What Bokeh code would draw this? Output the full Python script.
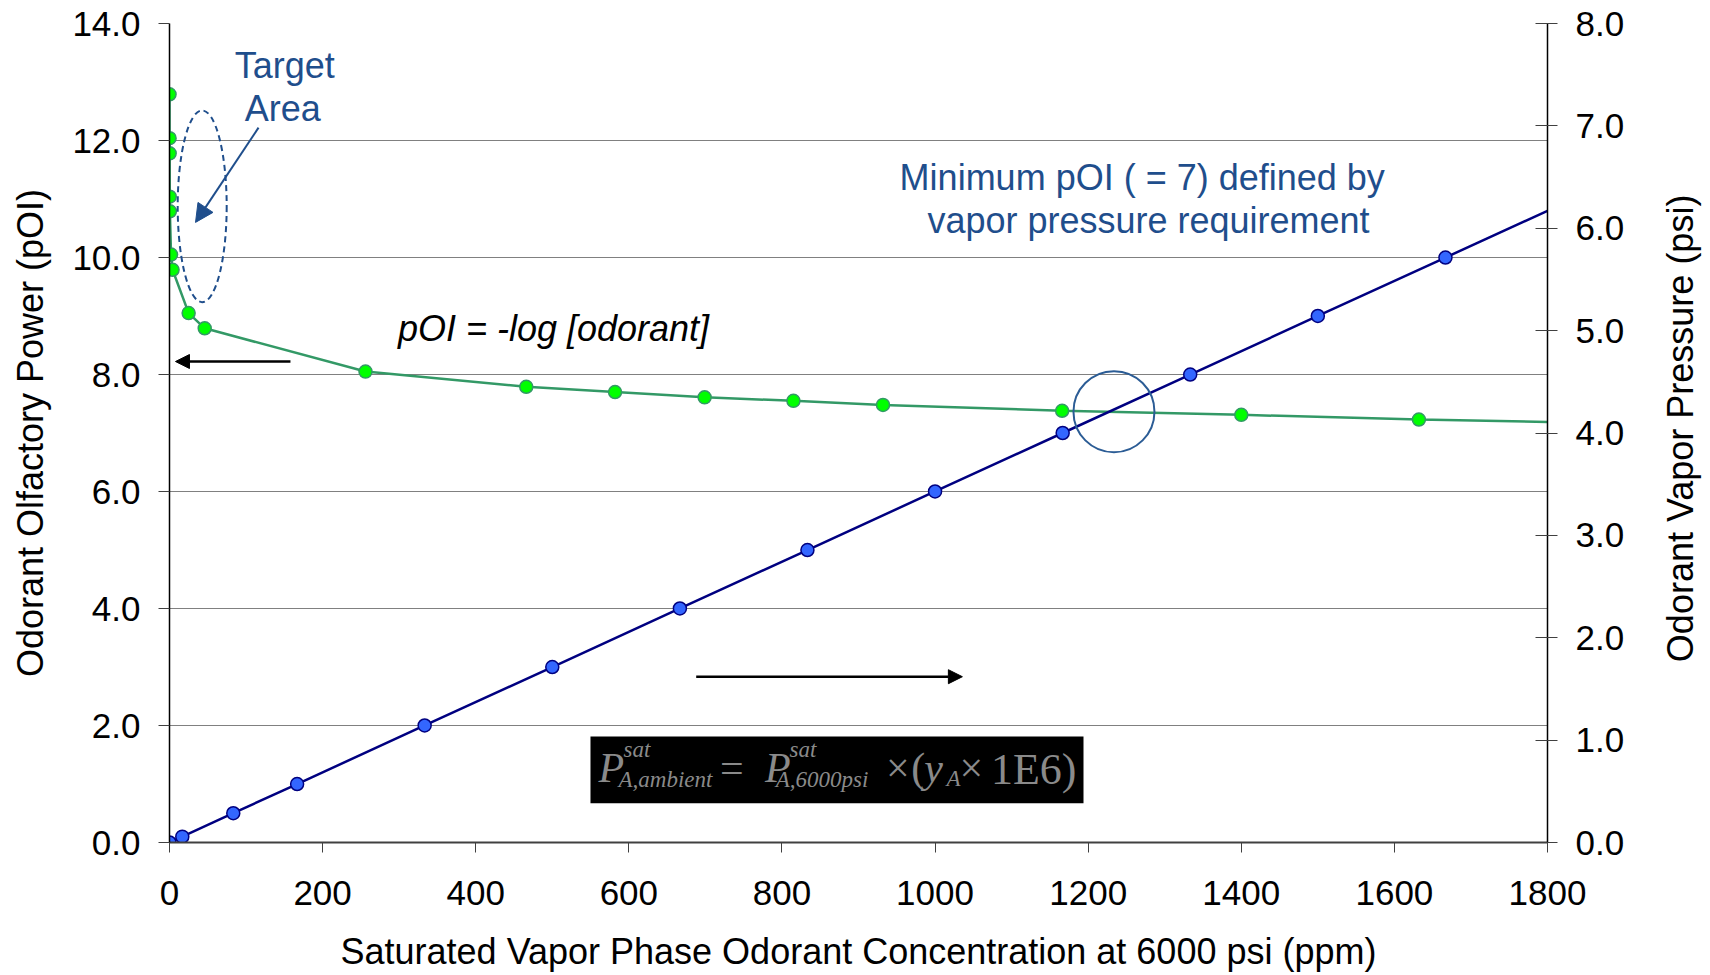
from bokeh.plotting import figure
from bokeh.layouts import row
from bokeh.models import (LinearAxis, Range1d, FixedTicker, NumeralTickFormatter,
                          Label, Arrow, NormalHead, BoxAnnotation)
from bokeh.embed import file_html
from bokeh.resources import INLINE

# ---------------- data ----------------
green_ppm = [0.05, 0.1, 0.2, 0.3, 0.5, 2, 4, 25, 46, 256, 466, 582, 699, 815, 932, 1166, 1400, 1632]
green_poi = [12.79, 12.04, 11.78, 11.04, 10.79, 10.05, 9.79, 9.05, 8.79, 8.05, 7.79, 7.70, 7.61,
             7.55, 7.48, 7.38, 7.31, 7.23]
green_tail_ppm = [1800]
green_tail_poi = [7.19]

blue_ppm = [0, 16.7, 83.3, 166.7, 333.3, 500, 666.7, 833.3, 1000, 1166.7, 1333.3, 1500, 1666.7]
blue_psi = [0, 0.057, 0.286, 0.571, 1.143, 1.714, 2.286, 2.857, 3.429, 4.0, 4.571, 5.143, 5.714]
blue_tail_ppm = [1800]
blue_tail_psi = [6.17]

x_ticks = [0, 200, 400, 600, 800, 1000, 1200, 1400, 1600, 1800]
left_ticks = [0, 2, 4, 6, 8, 10, 12, 14]
right_ticks = [0, 1, 2, 3, 4, 5, 6, 7, 8]

x_title = "Saturated Vapor Phase Odorant Concentration at 6000 psi (ppm)"
left_title = "Odorant Olfactory Power (pOI)"
right_title = "Odorant Vapor Pressure (psi)"

SANS = "Liberation Sans"
SERIF = "Liberation Serif"
NOTE_BLUE = "#1F4E8C"

p = figure(frame_width=1378, frame_height=819,
           x_range=Range1d(0, 1800), y_range=Range1d(0, 14),
           output_backend="svg", toolbar_location=None,
           min_border_left=169, min_border_right=100, min_border_top=23, min_border_bottom=133,
           background_fill_color="white", border_fill_color="white")
p.outline_line_color = None
p.extra_y_ranges = {"psi": Range1d(0, 8)}

# grid
p.xgrid.visible = False
p.ygrid.ticker = FixedTicker(ticks=left_ticks)
p.ygrid.grid_line_color = "#808080"
p.ygrid.grid_line_width = 1.2

# bottom axis
xa = p.xaxis[0]
xa.ticker = FixedTicker(ticks=x_ticks)
xa.axis_line_color = "#404040"
xa.axis_line_width = 2
xa.major_tick_out = 10
xa.major_tick_in = 0
xa.major_tick_line_color = "#404040"
xa.minor_tick_line_color = None
xa.major_label_text_font = SANS
xa.major_label_text_font_size = "35px"
xa.major_label_text_color = "black"
xa.major_label_standoff = 28
xa.axis_label = x_title
xa.axis_label_text_font = SANS
xa.axis_label_text_font_size = "36px"
xa.axis_label_text_font_style = "normal"
xa.axis_label_text_color = "black"
xa.axis_label_standoff = 23

# left axis
ya = p.yaxis[0]
ya.ticker = FixedTicker(ticks=left_ticks)
ya.formatter = NumeralTickFormatter(format="0.0")
ya.axis_line_color = "black"
ya.axis_line_width = 1.5
ya.major_tick_out = 11
ya.major_tick_in = 0
ya.major_tick_line_color = "#404040"
ya.minor_tick_line_color = None
ya.major_label_text_font = SANS
ya.major_label_text_font_size = "35px"
ya.major_label_text_color = "black"
ya.major_label_standoff = 18
ya.axis_label = left_title
ya.axis_label_text_font = SANS
ya.axis_label_text_font_size = "36px"
ya.axis_label_text_font_style = "normal"
ya.axis_label_text_color = "black"
ya.axis_label_standoff = 18

# right axis (ticks and labels)
ra = LinearAxis(y_range_name="psi", ticker=FixedTicker(ticks=right_ticks),
                formatter=NumeralTickFormatter(format="0.0"))
ra.axis_line_color = "black"
ra.axis_line_width = 1.5
ra.major_tick_out = 10
ra.major_tick_in = 12
ra.major_tick_line_color = "#404040"
ra.minor_tick_line_color = None
ra.major_label_text_font = SANS
ra.major_label_text_font_size = "35px"
ra.major_label_text_color = "black"
ra.major_label_standoff = 18
p.add_layout(ra, "right")

# ---------------- series ----------------
p.line(green_ppm + green_tail_ppm, green_poi + green_tail_poi, line_color="#339966", line_width=2.5)
p.scatter(green_ppm, green_poi, size=13, fill_color="#00FF00", line_color="#339966", line_width=1.5)

p.line(blue_ppm + blue_tail_ppm, blue_psi + blue_tail_psi, y_range_name="psi",
       line_color="#000080", line_width=2.5)
p.scatter(blue_ppm, blue_psi, y_range_name="psi", size=13, fill_color="#3366FF",
          line_color="#000080", line_width=1.5)

# ---------------- annotations ----------------
def note(fig, text, x, y, size="36px", color=NOTE_BLUE, font=SANS, style="normal", align="center",
         baseline="alphabetic", angle=0):
    fig.add_layout(Label(x=x, y=y, text=text, text_font=font, text_font_size=size,
                         text_color=color, text_font_style=style, text_align=align,
                         text_baseline=baseline, angle=angle, angle_units="deg"))

note(p, "Target", 150.5, 13.285)
note(p, "Area", 148, 12.545)
p.ellipse(x=[42.7], y=[10.875], width=[64], height=[3.28], fill_color=None,
          line_color=NOTE_BLUE, line_dash="6 4", line_width=2)
p.add_layout(Arrow(end=NormalHead(size=18, fill_color=NOTE_BLUE, line_color=NOTE_BLUE),
                   x_start=116.3, y_start=12.22, x_end=34, y_end=10.6,
                   line_color=NOTE_BLUE, line_width=2))

note(p, "Minimum pOI ( = 7) defined by", 1270.6, 11.374)
note(p, "vapor pressure requirement", 1278.8, 10.629)
p.ellipse(x=[1233.7], y=[7.364], width=[105.8], height=[1.385], fill_color=None,
          line_color="#2B5C95", line_width=2)

note(p, "pOI = -log [odorant]", 501.6, 8.785, color="black", style="italic")

p.add_layout(Arrow(end=NormalHead(size=14, fill_color="black", line_color="black"),
                   x_start=158, y_start=8.222, x_end=7.8, y_end=8.222,
                   line_color="black", line_width=2.5))
p.add_layout(Arrow(end=NormalHead(size=14, fill_color="black", line_color="black"),
                   x_start=688, y_start=2.834, x_end=1035.7, y_end=2.834,
                   line_color="black", line_width=2.5))

# equation box
p.add_layout(BoxAnnotation(left=549.9, right=1193.9, bottom=0.672, top=1.812,
                           fill_color="black", fill_alpha=1.0, line_color=None))
EQ = "#8a8a8a"
note(p, "P", 560.4, 1.27, size="42px", color=EQ, font=SERIF, style="italic", align="left")
note(p, "sat", 593, 1.59, size="23px", color=EQ, font=SERIF, style="italic", align="left")
note(p, "A,ambient", 586.5, 1.08, size="23px", color=EQ, font=SERIF, style="italic", align="left")
note(p, "=", 719, 1.27, size="42px", color=EQ, font=SERIF, align="left")
note(p, "P", 778, 1.27, size="42px", color=EQ, font=SERIF, style="italic", align="left")
note(p, "sat", 810, 1.59, size="23px", color=EQ, font=SERIF, style="italic", align="left")
note(p, "A,6000psi", 792, 1.08, size="23px", color=EQ, font=SERIF, style="italic", align="left")
note(p, "\u00d7", 936, 1.27, size="42px", color=EQ, font=SERIF, align="left")
note(p, "(", 969, 1.27, size="42px", color=EQ, font=SERIF, align="left")
note(p, "y", 986, 1.27, size="42px", color=EQ, font=SERIF, style="italic", align="left")
note(p, "A", 1015, 1.1, size="23px", color=EQ, font=SERIF, style="italic", align="left")
note(p, "\u00d7", 1032, 1.27, size="42px", color=EQ, font=SERIF, align="left")
note(p, "1E6)", 1073, 1.24, size="44px", color=EQ, font=SERIF, align="left")

# ---------------- right-hand title strip (reads bottom-to-top) ----------------
t = figure(width=63, height=975, x_range=Range1d(0, 63), y_range=Range1d(0, 975),
           output_backend="svg", toolbar_location=None,
           min_border_left=0, min_border_right=0, min_border_top=0, min_border_bottom=0,
           background_fill_color="white", border_fill_color="white")
t.outline_line_color = None
t.xaxis.visible = False
t.yaxis.visible = False
t.xgrid.visible = False
t.ygrid.visible = False
note(t, right_title, 33, 493, color="black", baseline="middle", angle=90)

layout = row(p, t, spacing=0)
open("out.html", "w").write(file_html(layout, INLINE))
